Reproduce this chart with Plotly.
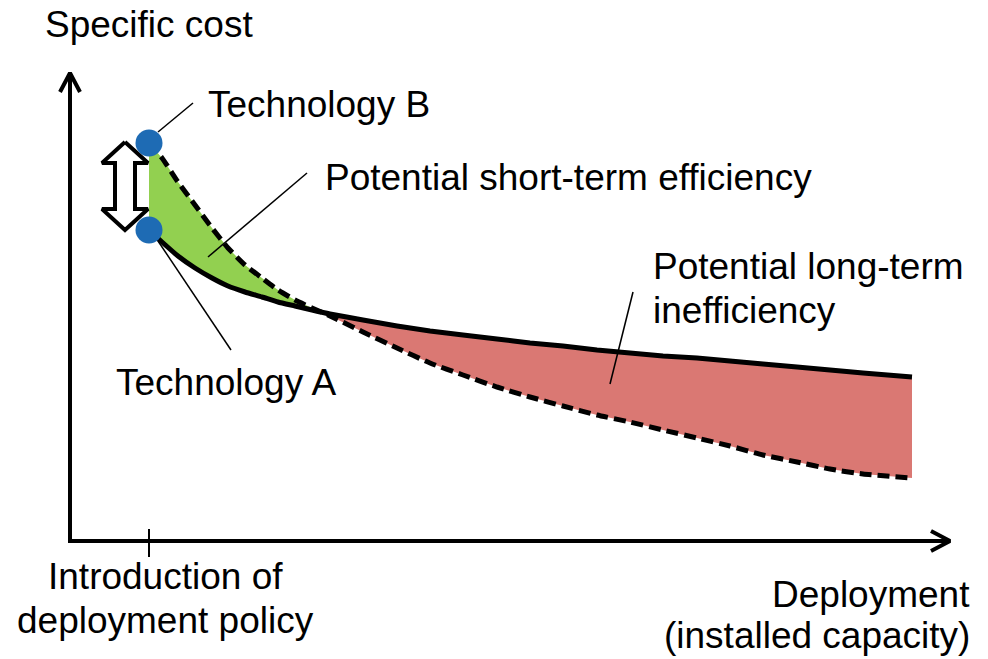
import plotly.graph_objects as go

# ---------------- data (deployment units, cost units) ----------------
deployment = [79, 92, 108, 125, 142, 158, 175, 192, 208, 225, 242, 260, 293, 327,
              360, 393, 427, 460, 493, 527, 560, 593, 627, 660, 693, 727, 760, 793, 842]
cost_tech_a = [311, 299, 285, 273, 263, 255, 249, 244, 239, 235, 231, 227, 221, 215,
               210, 206, 202, 198, 195, 191, 188, 185, 183, 180, 177, 174, 171, 168, 164]
cost_tech_b = [398, 383, 359, 336, 313, 293, 276, 263, 251, 241, 233, 225, 209, 193,
               178, 166, 154, 144, 135, 126, 119, 111, 103, 95, 86, 79, 72, 67, 63]

policy_deployment = 79          # introduction of deployment policy
tech_a_start_cost = 311
tech_b_start_cost = 398

axis_x_end = 880
axis_y_end = 468

label_texts = {
    "ylabel": "Specific cost",
    "techB": "Technology B",
    "short": "Potential short-term efficiency",
    "long1": "Potential long-term",
    "long2": "inefficiency",
    "techA": "Technology A",
    "intro1": "Introduction of",
    "intro2": "deployment policy",
    "xlabel1": "Deployment",
    "xlabel2": "(installed capacity)",
}

GREEN = "#92D050"
RED = "#DA7873"
BLUE = "#1E6BB4"
FONT = "Liberation Sans, Arial, sans-serif"

# ---------------- helpers ----------------
X0, X1 = -70, 918
Y0, Y1 = -118, 541


def P(px, py):
    """convert a page position (for layout/decoration) into axis units"""
    return px + X0, Y1 - py


# crossing point of the two curves
cross_idx = None
for i in range(len(deployment) - 1):
    d0 = cost_tech_b[i] - cost_tech_a[i]
    d1 = cost_tech_b[i + 1] - cost_tech_a[i + 1]
    if d0 > 0 and d1 <= 0:
        cross_idx = i
        t = d0 / (d0 - d1)
        cx = deployment[i] + t * (deployment[i + 1] - deployment[i])
        cy = cost_tech_a[i] + t * (cost_tech_a[i + 1] - cost_tech_a[i])
        break

fig = go.Figure()

# green area (short-term efficiency)
gx = deployment[:cross_idx + 1] + [cx] + deployment[:cross_idx + 1][::-1]
gy = cost_tech_b[:cross_idx + 1] + [cy] + cost_tech_a[:cross_idx + 1][::-1]
fig.add_trace(go.Scatter(x=gx, y=gy, fill="toself", fillcolor=GREEN,
                         mode="none", hoverinfo="skip"))

# red area (long-term inefficiency)
rx = [cx] + deployment[cross_idx + 1:] + deployment[cross_idx + 1:][::-1]
ry = [cy] + cost_tech_a[cross_idx + 1:] + cost_tech_b[cross_idx + 1:][::-1]
fig.add_trace(go.Scatter(x=rx, y=ry, fill="toself", fillcolor=RED,
                         mode="none", hoverinfo="skip"))

# axes with open arrow heads
fig.add_trace(go.Scatter(x=[0, 0, axis_x_end], y=[axis_y_end, 0, 0], mode="lines",
                         line=dict(color="black", width=4), hoverinfo="skip"))
fig.add_trace(go.Scatter(x=[-10, 0, 10], y=[axis_y_end - 19, axis_y_end, axis_y_end - 19],
                         mode="lines", line=dict(color="black", width=4), hoverinfo="skip"))
fig.add_trace(go.Scatter(x=[axis_x_end - 19, axis_x_end, axis_x_end - 19], y=[10, 0, -10],
                         mode="lines", line=dict(color="black", width=4), hoverinfo="skip"))
# policy tick
fig.add_trace(go.Scatter(x=[policy_deployment, policy_deployment], y=[12, -16],
                         mode="lines", line=dict(color="black", width=2), hoverinfo="skip"))

# curves
fig.add_trace(go.Scatter(x=deployment, y=cost_tech_a, mode="lines",
                         line=dict(color="black", width=5, shape="spline", smoothing=0.5),
                         hoverinfo="skip"))
fig.add_trace(go.Scatter(x=deployment, y=cost_tech_b, mode="lines",
                         line=dict(color="black", width=5, dash="12px,6px",
                                   shape="spline", smoothing=0.5),
                         hoverinfo="skip"))

# double hollow arrow between technologies
ax_c = policy_deployment - 24
hw, sw, hd = 23, 10, 21
top, bot = tech_b_start_cost + 1, tech_a_start_cost
arrow_x = [ax_c, ax_c + hw, ax_c + sw, ax_c + sw, ax_c + hw, ax_c, ax_c - hw,
           ax_c - sw, ax_c - sw, ax_c - hw, ax_c]
arrow_y = [top, top - hd, top - hd, bot + hd, bot + hd, bot, bot + hd,
           bot + hd, top - hd, top - hd, top]
fig.add_trace(go.Scatter(x=arrow_x, y=arrow_y, fill="toself", fillcolor="white",
                         mode="lines", line=dict(color="black", width=4),
                         hoverinfo="skip"))

# leader lines
leaders = [
    ((158, 132), (193, 103)),
    ((208, 257), (307, 173)),
    ((610, 384), (633, 292)),
    ((156, 238), (231, 350)),
]
for (a, b) in leaders:
    xa, ya = P(*a)
    xb, yb = P(*b)
    fig.add_trace(go.Scatter(x=[xa, xb], y=[ya, yb], mode="lines",
                             line=dict(color="black", width=1.5), hoverinfo="skip"))

# technology dots
fig.add_trace(go.Scatter(x=[policy_deployment, policy_deployment],
                         y=[tech_b_start_cost, tech_a_start_cost], mode="markers",
                         marker=dict(size=27, color=BLUE), hoverinfo="skip"))


# text labels
def label(key, px, py, xanchor):
    x, y = P(px, py)
    fig.add_annotation(x=x, y=y, text=label_texts[key], showarrow=False,
                       xanchor=xanchor, yanchor="middle",
                       font=dict(family=FONT, size=37, color="black"))


label("ylabel", 43, 24, "left")
label("techB", 206, 104, "left")
label("short", 323, 177, "left")
label("long1", 651, 266, "left")
label("long2", 651, 310, "left")
label("techA", 114, 382, "left")
label("intro1", 165, 576, "center")
label("intro2", 165, 620, "center")
label("xlabel1", 972, 594, "right")
label("xlabel2", 972, 635, "right")

fig.update_layout(
    width=988, height=659,
    margin=dict(l=0, r=0, t=0, b=0),
    paper_bgcolor="white", plot_bgcolor="white",
    showlegend=False,
    xaxis=dict(range=[X0, X1], visible=False, fixedrange=True),
    yaxis=dict(range=[Y0, Y1], visible=False, fixedrange=True),
)

fig.write_html("out.html", config={"displayModeBar": False},
               post_script="document.body.style.margin='0px';"
                           "document.body.style.overflow='hidden';")
